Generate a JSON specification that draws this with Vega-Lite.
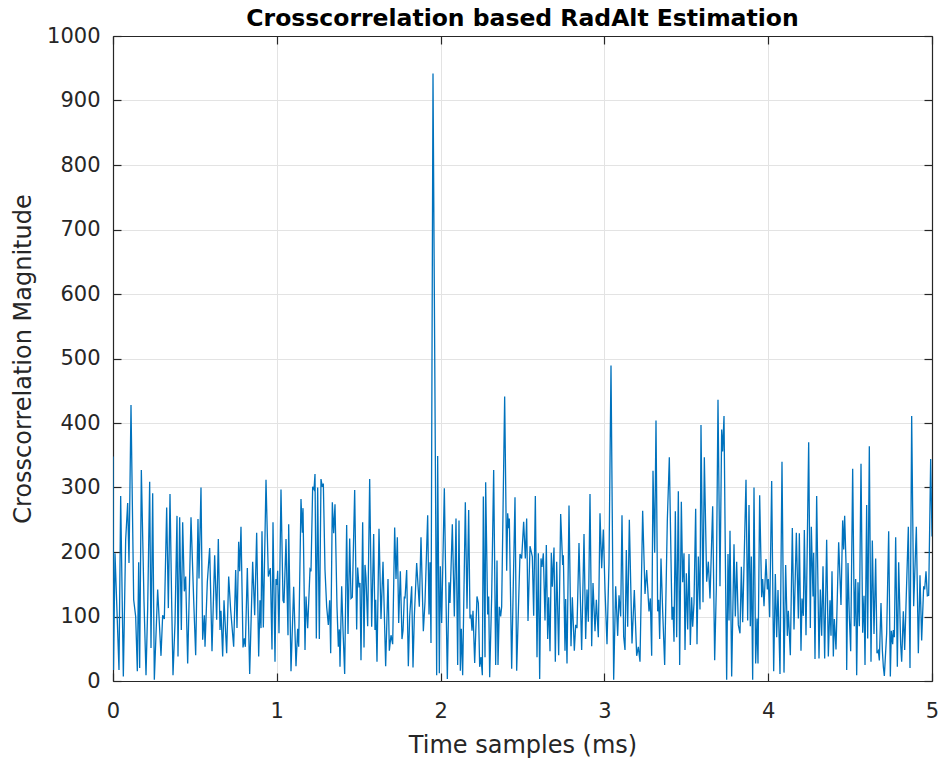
{
"$schema": "https://vega.github.io/schema/vega-lite/v6.json",
"width": 819, "height": 645,
"autosize": "none",
"padding": {"left": 113, "top": 36, "right": 8, "bottom": 84},
"background": "white",
"title": {"text": "Crosscorrelation based RadAlt Estimation", "font": "DejaVu Sans", "fontSize": 23.5, "fontWeight": "bold", "color": "#000000", "anchor": "middle", "frame": "group", "baseline": "alphabetic", "offset": -24},
"config": {"view": {"stroke": null}, "font": "DejaVu Sans"},
"data": {"values": [
{"t":0,"v":348},{"t":0.003,"v":17},{"t":0.0122,"v":198},{"t":0.0366,"v":17},{"t":0.0468,"v":287},{"t":0.0631,"v":7},{"t":0.0773,"v":219},{"t":0.0896,"v":276},{"t":0.0977,"v":183},{"t":0.1099,"v":428},{"t":0.1262,"v":126},{"t":0.1384,"v":100},{"t":0.1486,"v":15},{"t":0.1567,"v":184},{"t":0.1628,"v":20},{"t":0.173,"v":327},{"t":0.1893,"v":123},{"t":0.2015,"v":9},{"t":0.2117,"v":113},{"t":0.2239,"v":309},{"t":0.232,"v":51},{"t":0.2422,"v":291},{"t":0.2523,"v":2},{"t":0.2605,"v":58},{"t":0.2727,"v":142},{"t":0.293,"v":39},{"t":0.3032,"v":102},{"t":0.3134,"v":96},{"t":0.3277,"v":269},{"t":0.3378,"v":113},{"t":0.348,"v":290},{"t":0.3582,"v":121},{"t":0.3663,"v":9},{"t":0.3785,"v":90},{"t":0.3907,"v":256},{"t":0.3968,"v":38},{"t":0.407,"v":254},{"t":0.4172,"v":79},{"t":0.4253,"v":246},{"t":0.4355,"v":139},{"t":0.4436,"v":162},{"t":0.4559,"v":27},{"t":0.4762,"v":254},{"t":0.4925,"v":126},{"t":0.5047,"v":40},{"t":0.5189,"v":251},{"t":0.525,"v":159},{"t":0.5372,"v":300},{"t":0.5474,"v":64},{"t":0.5576,"v":102},{"t":0.5617,"v":53},{"t":0.5759,"v":154},{"t":0.5901,"v":206},{"t":0.6044,"v":46},{"t":0.6207,"v":195},
{"t":0.6329,"v":95},{"t":0.643,"v":220},{"t":0.6532,"v":79},{"t":0.6593,"v":109},{"t":0.6695,"v":38},{"t":0.6777,"v":125},{"t":0.6858,"v":84},{"t":0.6939,"v":43},{"t":0.7062,"v":162},{"t":0.7184,"v":110},{"t":0.7367,"v":53},{"t":0.7489,"v":172},{"t":0.757,"v":82},{"t":0.7672,"v":216},{"t":0.7733,"v":170},{"t":0.7814,"v":239},{"t":0.7937,"v":52},{"t":0.8018,"v":66},{"t":0.8079,"v":53},{"t":0.8201,"v":175},{"t":0.8344,"v":11},{"t":0.8527,"v":185},{"t":0.8649,"v":102},{"t":0.8771,"v":230},{"t":0.8893,"v":38},{"t":0.8974,"v":125},{"t":0.9035,"v":82},{"t":0.9096,"v":232},{"t":0.9178,"v":83},{"t":0.9341,"v":312},{"t":0.9483,"v":162},{"t":0.9605,"v":175},{"t":0.9707,"v":49},{"t":0.9768,"v":246},{"t":0.989,"v":30},{"t":0.9951,"v":158},{"t":1.0012,"v":149},{"t":1.0053,"v":171},{"t":1.0134,"v":74},{"t":1.0256,"v":297},{"t":1.0379,"v":125},{"t":1.044,"v":121},{"t":1.0562,"v":220},{"t":1.0684,"v":71},{"t":1.0725,"v":243},{"t":1.0867,"v":15},{"t":1.103,"v":146},{"t":1.1172,"v":23},{"t":1.1274,"v":81},{"t":1.1335,"v":53},{"t":1.1477,"v":282},{"t":1.1559,"v":230},{"t":1.16,"v":268},{"t":1.1722,"v":48},{"t":1.1783,"v":131},{"t":1.1885,"v":82},{"t":1.2027,"v":173},{"t":1.2088,"v":170},{"t":1.219,"v":301},{"t":1.2271,"v":297},{"t":1.2332,"v":321},{"t":1.2414,"v":66},{"t":1.2495,"v":300},{"t":1.2597,"v":65},
{"t":1.2698,"v":313},{"t":1.278,"v":301},{"t":1.2841,"v":306},{"t":1.2943,"v":172},{"t":1.3044,"v":115},{"t":1.3146,"v":87},{"t":1.3228,"v":125},{"t":1.3289,"v":43},{"t":1.339,"v":277},{"t":1.3472,"v":229},{"t":1.3553,"v":274},{"t":1.3675,"v":115},{"t":1.3757,"v":53},{"t":1.3818,"v":80},{"t":1.3858,"v":22},{"t":1.396,"v":147},{"t":1.4042,"v":79},{"t":1.4143,"v":11},{"t":1.4265,"v":242},{"t":1.4347,"v":73},{"t":1.4449,"v":221},{"t":1.453,"v":128},{"t":1.4611,"v":130},{"t":1.4754,"v":296},{"t":1.4876,"v":80},{"t":1.4937,"v":176},{"t":1.5018,"v":145},{"t":1.5079,"v":152},{"t":1.514,"v":32},{"t":1.5242,"v":246},{"t":1.5324,"v":52},{"t":1.5385,"v":180},{"t":1.5446,"v":160},{"t":1.5548,"v":85},{"t":1.567,"v":313},{"t":1.5792,"v":84},{"t":1.5914,"v":228},{"t":1.5995,"v":79},{"t":1.6036,"v":126},{"t":1.6117,"v":30},{"t":1.6239,"v":236},{"t":1.6361,"v":96},{"t":1.6484,"v":185},{"t":1.6646,"v":23},{"t":1.6789,"v":158},{"t":1.687,"v":47},{"t":1.6972,"v":71},{"t":1.7074,"v":57},{"t":1.7196,"v":238},{"t":1.7277,"v":158},{"t":1.7359,"v":223},{"t":1.744,"v":90},{"t":1.7542,"v":170},{"t":1.7643,"v":65},{"t":1.7705,"v":78},{"t":1.7786,"v":131},{"t":1.7827,"v":128},{"t":1.7929,"v":172},{"t":1.803,"v":23},{"t":1.8112,"v":100},{"t":1.8234,"v":147},{"t":1.8315,"v":21},{"t":1.8396,"v":100},{"t":1.8539,"v":183},{"t":1.8701,"v":115},{"t":1.8803,"v":223},{"t":1.8946,"v":77},{"t":1.9048,"v":123},
{"t":1.9211,"v":257},{"t":1.9292,"v":103},{"t":1.9353,"v":184},{"t":1.9414,"v":59},{"t":1.9536,"v":942},{"t":1.976,"v":9},{"t":1.9821,"v":349},{"t":1.9923,"v":12},{"t":1.9984,"v":178},{"t":2.0065,"v":90},{"t":2.0228,"v":299},{"t":2.033,"v":128},{"t":2.0411,"v":3},{"t":2.0513,"v":153},{"t":2.0574,"v":121},{"t":2.0716,"v":243},{"t":2.0838,"v":100},{"t":2.094,"v":252},{"t":2.1042,"v":25},{"t":2.1123,"v":249},{"t":2.1205,"v":16},{"t":2.1266,"v":81},{"t":2.1347,"v":9},{"t":2.151,"v":277},{"t":2.1612,"v":112},{"t":2.1714,"v":265},{"t":2.1795,"v":97},{"t":2.1856,"v":103},{"t":2.1917,"v":78},{"t":2.1978,"v":109},{"t":2.208,"v":28},{"t":2.2222,"v":131},{"t":2.2304,"v":121},{"t":2.2385,"v":22},{"t":2.2466,"v":37},{"t":2.2548,"v":9},{"t":2.2609,"v":286},{"t":2.2711,"v":37},{"t":2.2751,"v":308},{"t":2.2874,"v":103},{"t":2.2935,"v":131},{"t":2.2996,"v":6},{"t":2.3118,"v":131},{"t":2.324,"v":327},{"t":2.3362,"v":25},{"t":2.3443,"v":187},{"t":2.3504,"v":25},{"t":2.3586,"v":115},{"t":2.3667,"v":100},{"t":2.3728,"v":115},{"t":2.3911,"v":441},{"t":2.4034,"v":171},{"t":2.4095,"v":260},{"t":2.4155,"v":237},{"t":2.4196,"v":252},{"t":2.4339,"v":19},{"t":2.4542,"v":285},{"t":2.4644,"v":16},{"t":2.4847,"v":197},{"t":2.4949,"v":190},{"t":2.5071,"v":247},{"t":2.5173,"v":190},{"t":2.5254,"v":252},{"t":2.5336,"v":93},{"t":2.5458,"v":209},
{"t":2.56,"v":193},{"t":2.5682,"v":101},{"t":2.5784,"v":287},{"t":2.5885,"v":37},{"t":2.5967,"v":198},{"t":2.6048,"v":3},{"t":2.6129,"v":190},{"t":2.619,"v":177},{"t":2.6272,"v":198},{"t":2.6374,"v":94},{"t":2.6455,"v":211},{"t":2.6537,"v":65},{"t":2.6598,"v":130},{"t":2.6679,"v":46},{"t":2.676,"v":199},{"t":2.6821,"v":146},{"t":2.6923,"v":207},{"t":2.7004,"v":30},{"t":2.7086,"v":185},{"t":2.7208,"v":40},{"t":2.733,"v":259},{"t":2.7452,"v":180},{"t":2.7493,"v":195},{"t":2.7595,"v":47},{"t":2.7635,"v":127},{"t":2.7717,"v":27},{"t":2.7839,"v":272},{"t":2.7961,"v":54},{"t":2.8042,"v":130},{"t":2.8164,"v":47},{"t":2.8246,"v":87},{"t":2.8327,"v":82},{"t":2.8449,"v":214},{"t":2.8612,"v":48},{"t":2.8755,"v":228},{"t":2.8856,"v":65},{"t":2.8938,"v":142},{"t":2.9019,"v":92},{"t":2.9121,"v":290},{"t":2.9223,"v":54},{"t":2.9304,"v":152},{"t":2.9426,"v":77},{"t":2.9508,"v":126},{"t":2.963,"v":68},{"t":2.9731,"v":260},{"t":2.9833,"v":175},{"t":2.9935,"v":235},{"t":3.0037,"v":141},{"t":3.0159,"v":57},{"t":3.0281,"v":183},{"t":3.0403,"v":489},{"t":3.0566,"v":2},{"t":3.0688,"v":147},{"t":3.0811,"v":70},{"t":3.0891,"v":133},{"t":3.0993,"v":100},{"t":3.1074,"v":257},{"t":3.1176,"v":69},{"t":3.1258,"v":48},{"t":3.1339,"v":203},{"t":3.1421,"v":84},{"t":3.1522,"v":250},{"t":3.1685,"v":58},{"t":3.1827,"v":141},
{"t":3.197,"v":39},{"t":3.2072,"v":53},{"t":3.2173,"v":30},{"t":3.2336,"v":264},{"t":3.2479,"v":135},{"t":3.2581,"v":172},{"t":3.2723,"v":108},{"t":3.2804,"v":128},{"t":3.2886,"v":39},{"t":3.2967,"v":326},{"t":3.3069,"v":199},{"t":3.315,"v":404},{"t":3.3252,"v":108},{"t":3.3313,"v":126},{"t":3.3374,"v":65},{"t":3.3455,"v":190},{"t":3.3557,"v":108},{"t":3.3679,"v":25},{"t":3.3842,"v":250},{"t":3.3964,"v":347},{"t":3.4127,"v":95},{"t":3.4188,"v":115},{"t":3.4249,"v":61},{"t":3.4331,"v":263},{"t":3.4412,"v":68},{"t":3.4514,"v":294},{"t":3.4595,"v":25},{"t":3.4697,"v":278},{"t":3.4778,"v":153},{"t":3.486,"v":198},{"t":3.4921,"v":48},{"t":3.5002,"v":167},{"t":3.5084,"v":80},{"t":3.5165,"v":197},{"t":3.5246,"v":56},{"t":3.5328,"v":130},{"t":3.5389,"v":84},{"t":3.547,"v":121},{"t":3.5572,"v":267},{"t":3.5653,"v":57},{"t":3.5735,"v":193},{"t":3.5836,"v":111},{"t":3.5897,"v":397},{"t":3.602,"v":122},{"t":3.6101,"v":347},{"t":3.6244,"v":154},{"t":3.6345,"v":185},{"t":3.6447,"v":128},{"t":3.661,"v":271},{"t":3.6732,"v":32},{"t":3.6833,"v":144},{"t":3.6935,"v":436},{"t":3.7057,"v":147},{"t":3.7159,"v":390},{"t":3.722,"v":356},{"t":3.7302,"v":411},{"t":3.7383,"v":194},{"t":3.7464,"v":2},{"t":3.7546,"v":197},{"t":3.7607,"v":94},{"t":3.7668,"v":233},{"t":3.777,"v":7},{"t":3.7912,"v":212},{"t":3.7993,"v":100},{"t":3.8075,"v":185},{"t":3.8176,"v":87},{"t":3.8278,"v":74},
{"t":3.836,"v":177},{"t":3.8441,"v":91},{"t":3.8645,"v":312},{"t":3.8747,"v":94},{"t":3.8828,"v":273},{"t":3.8909,"v":85},{"t":3.897,"v":193},{"t":3.9052,"v":2},{"t":3.9133,"v":300},{"t":3.9235,"v":27},{"t":3.9316,"v":97},{"t":3.9377,"v":27},{"t":3.9479,"v":288},{"t":3.9601,"v":130},{"t":3.9662,"v":158},{"t":3.9744,"v":116},{"t":3.9866,"v":189},{"t":3.9947,"v":142},{"t":4.0008,"v":158},{"t":4.0089,"v":99},{"t":4.0212,"v":310},{"t":4.0334,"v":15},{"t":4.0435,"v":166},{"t":4.0517,"v":68},{"t":4.0598,"v":141},{"t":4.072,"v":11},{"t":4.0842,"v":340},{"t":4.0965,"v":13},{"t":4.1066,"v":180},{"t":4.1168,"v":70},{"t":4.1229,"v":109},{"t":4.1351,"v":40},{"t":4.1473,"v":237},{"t":4.1575,"v":80},{"t":4.1718,"v":230},{"t":4.184,"v":97},{"t":4.1901,"v":229},{"t":4.2002,"v":47},{"t":4.2063,"v":128},{"t":4.2145,"v":101},{"t":4.2206,"v":234},{"t":4.2308,"v":71},{"t":4.2471,"v":370},{"t":4.2572,"v":82},{"t":4.2633,"v":239},{"t":4.2735,"v":131},{"t":4.2776,"v":199},{"t":4.2857,"v":34},{"t":4.2959,"v":287},{"t":4.3101,"v":35},{"t":4.3183,"v":142},{"t":4.3264,"v":70},{"t":4.3346,"v":178},{"t":4.3447,"v":35},{"t":4.3569,"v":219},{"t":4.3671,"v":38},{"t":4.3773,"v":125},{"t":4.3834,"v":70},{"t":4.3895,"v":170},{"t":4.3976,"v":38},{"t":4.4038,"v":96},{"t":4.4139,"v":49},{"t":4.4302,"v":215},{"t":4.4444,"v":118},{"t":4.4546,"v":249},{"t":4.4607,"v":204},{"t":4.4668,"v":256},
{"t":4.475,"v":183},{"t":4.4791,"v":17},{"t":4.4872,"v":183},{"t":4.4953,"v":100},{"t":4.5035,"v":46},{"t":4.5157,"v":329},{"t":4.5259,"v":85},{"t":4.534,"v":158},{"t":4.5401,"v":9},{"t":4.5482,"v":153},{"t":4.5564,"v":85},{"t":4.5666,"v":337},{"t":4.5767,"v":75},{"t":4.5849,"v":132},{"t":4.591,"v":25},{"t":4.6011,"v":273},{"t":4.6073,"v":66},{"t":4.6174,"v":364},{"t":4.6276,"v":30},{"t":4.6357,"v":218},{"t":4.6459,"v":73},{"t":4.6561,"v":190},{"t":4.6642,"v":43},{"t":4.6724,"v":47},{"t":4.6785,"v":32},{"t":4.6886,"v":121},{"t":4.6968,"v":48},{"t":4.7029,"v":22},{"t":4.709,"v":8},{"t":4.7233,"v":74},{"t":4.7355,"v":232},{"t":4.7456,"v":7},{"t":4.7517,"v":78},{"t":4.7599,"v":57},{"t":4.7639,"v":79},{"t":4.7701,"v":68},{"t":4.7782,"v":223},{"t":4.7884,"v":22},{"t":4.7965,"v":184},{"t":4.8087,"v":57},{"t":4.8148,"v":30},{"t":4.825,"v":108},{"t":4.8332,"v":48},{"t":4.8454,"v":153},{"t":4.8555,"v":239},{"t":4.8657,"v":20},{"t":4.8759,"v":411},{"t":4.8881,"v":116},{"t":4.9044,"v":239},{"t":4.9166,"v":43},{"t":4.9267,"v":164},{"t":4.9369,"v":63},{"t":4.9491,"v":147},{"t":4.9552,"v":142},{"t":4.9634,"v":170},{"t":4.9715,"v":132},{"t":4.9797,"v":133},{"t":4.9919,"v":344},{"t":5.0,"v":224}
]},
"layer": [
{"mark": {"type": "line", "color": "#0072BD", "strokeWidth": 1.3, "clip": true},
 "encoding": {
  "x": {"field": "t", "type": "quantitative", "scale": {"domain": [0, 5], "nice": false, "zero": false},
   "axis": {"orient": "bottom", "values": [0,1,2,3,4,5], "format": "d", "title": "Time samples (ms)", "titleFont": "DejaVu Sans", "titleFontSize": 24, "titleFontWeight": "normal", "titleColor": "#262626", "titlePadding": 12,
    "labelFont": "DejaVu Sans", "labelFontSize": 21, "labelColor": "#262626", "labelPadding": 27, "labelFlush": false, "labelOverlap": false,
    "tickSize": -8, "tickColor": "#262626", "tickWidth": 1.2, "domainColor": "#262626", "domainWidth": 1.2,
    "grid": true, "gridColor": "#e3e3e3", "gridWidth": 1}},
  "y": {"field": "v", "type": "quantitative", "scale": {"domain": [0, 1000], "nice": false},
   "axis": {"orient": "left", "values": [0,100,200,300,400,500,600,700,800,900,1000], "format": "d", "title": "Crosscorrelation Magnitude", "titleFont": "DejaVu Sans", "titleFontSize": 24, "titleFontWeight": "normal", "titleColor": "#262626", "titlePadding": 11,
    "labelFont": "DejaVu Sans", "labelFontSize": 21, "labelColor": "#262626", "labelPadding": 21, "labelFlush": false, "labelOverlap": false,
    "tickSize": -8, "tickColor": "#262626", "tickWidth": 1.2, "domainColor": "#262626", "domainWidth": 1.2,
    "grid": true, "gridColor": "#e3e3e3", "gridWidth": 1}}
 }},
{"mark": {"type": "line", "opacity": 0},
 "encoding": {
  "x": {"field": "t", "type": "quantitative",
   "axis": {"orient": "top", "values": [0,1,2,3,4,5], "title": null, "labels": false, "grid": false,
    "tickSize": -8, "tickColor": "#262626", "tickWidth": 1.2, "domainColor": "#262626", "domainWidth": 1.2}},
  "y": {"field": "v", "type": "quantitative",
   "axis": {"orient": "right", "values": [0,100,200,300,400,500,600,700,800,900,1000], "title": null, "labels": false, "grid": false,
    "tickSize": -8, "tickColor": "#262626", "tickWidth": 1.2, "domainColor": "#262626", "domainWidth": 1.2}}
 }}
],
"resolve": {"axis": {"x": "independent", "y": "independent"}}
}
